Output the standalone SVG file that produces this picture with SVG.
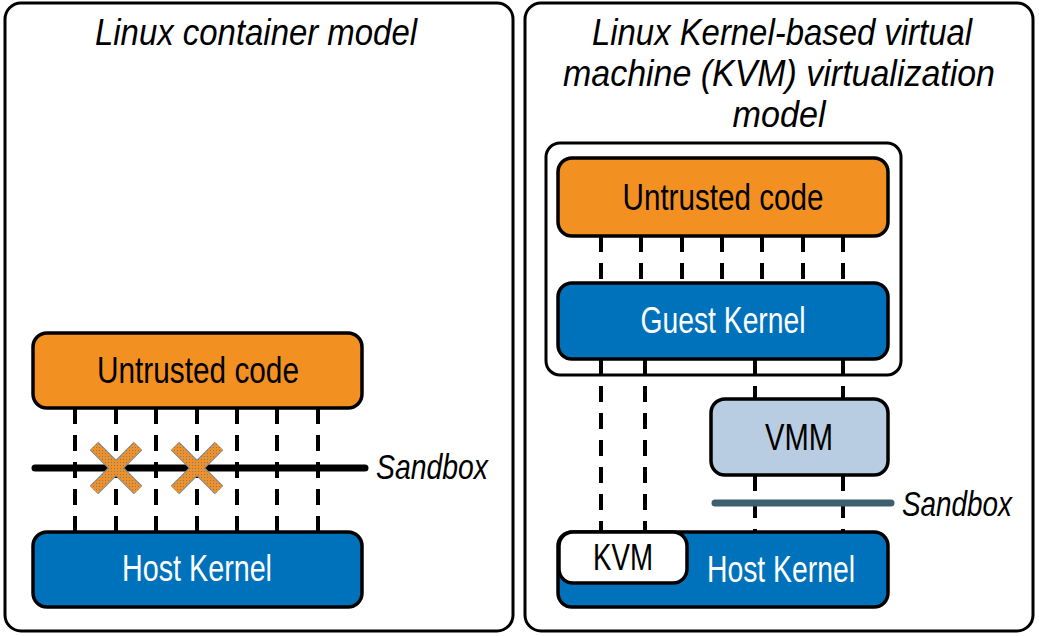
<svg xmlns="http://www.w3.org/2000/svg" width="1039" height="636" viewBox="0 0 1039 636">
<style>
.panel{fill:#fff;stroke:#000;stroke-width:3}
.box{stroke:#000;stroke-width:3.5}
.orange{fill:#F39022}
.blue{fill:#0072BC}
.vmm{fill:#B8CDE1}
.white{fill:#fff}
.dash{stroke:#000;stroke-width:4;stroke-dasharray:16 11;fill:none}
.title{font-family:"Liberation Sans Narrow","Liberation Sans",sans-serif;font-style:italic;font-size:36px;fill:#000;text-anchor:middle}
.lbl{font-family:"Liberation Sans Narrow","Liberation Sans",sans-serif;font-size:37px;text-anchor:middle}
.dark{fill:#000}
.light{fill:#fff}
.sb{font-family:"Liberation Sans Narrow","Liberation Sans",sans-serif;font-style:italic;font-size:35px;fill:#000}
</style>
<defs>
<pattern id="dither" width="3" height="3" patternUnits="userSpaceOnUse">
<rect width="3" height="3" fill="#F09028"/>
<rect width="1" height="1" fill="#6E7E88"/>
</pattern>
</defs>
<g id="panel-left">
<rect class="panel" x="5" y="3" width="508" height="628" rx="16"/>
<text class="title" x="256" y="45" textLength="322" lengthAdjust="spacingAndGlyphs">Linux container model</text>
</g>
<g id="panel-right">
<rect class="panel" x="525" y="3" width="508" height="628" rx="16"/>
<text class="title" x="782" y="45" textLength="380" lengthAdjust="spacingAndGlyphs">Linux Kernel-based virtual</text>
<text class="title" x="779" y="86" textLength="432" lengthAdjust="spacingAndGlyphs">machine (KVM) virtualization</text>
<text class="title" x="779" y="127" textLength="93" lengthAdjust="spacingAndGlyphs">model</text>
</g>
<g id="connectors">
<line class="dash" x1="75" y1="408" x2="75" y2="532"/>
<line class="dash" x1="116" y1="408" x2="116" y2="532"/>
<line class="dash" x1="156" y1="408" x2="156" y2="532"/>
<line class="dash" x1="197" y1="408" x2="197" y2="532"/>
<line class="dash" x1="237" y1="408" x2="237" y2="532"/>
<line class="dash" x1="277" y1="408" x2="277" y2="532"/>
<line class="dash" x1="318" y1="408" x2="318" y2="532"/>
<line class="dash" x1="601" y1="236" x2="601" y2="283"/>
<line class="dash" x1="641" y1="236" x2="641" y2="283"/>
<line class="dash" x1="682" y1="236" x2="682" y2="283"/>
<line class="dash" x1="722" y1="236" x2="722" y2="283"/>
<line class="dash" x1="762" y1="236" x2="762" y2="283"/>
<line class="dash" x1="803" y1="236" x2="803" y2="283"/>
<line class="dash" x1="843" y1="236" x2="843" y2="283"/>
<line class="dash" x1="601" y1="359" x2="601" y2="532"/>
<line class="dash" x1="645" y1="359" x2="645" y2="532"/>
<line class="dash" x1="755" y1="359" x2="755" y2="399"/>
<line class="dash" x1="843" y1="359" x2="843" y2="399"/>
<line class="dash" x1="755" y1="475" x2="755" y2="532"/>
<line class="dash" x1="843" y1="475" x2="843" y2="532"/>
</g>
<g id="sandbox-left">
<line x1="35" y1="468" x2="365" y2="468" stroke="#000" stroke-width="7" stroke-linecap="round"/>
<text class="sb" x="376" y="479" textLength="112" lengthAdjust="spacingAndGlyphs">Sandbox</text>
</g>
<g id="blocked-marks">
<g stroke="#7B8A93" stroke-width="12" stroke-linecap="butt">
<line x1="94" y1="446" x2="138" y2="490"/><line x1="138" y1="446" x2="94" y2="490"/>
<line x1="175" y1="446" x2="219" y2="490"/><line x1="219" y1="446" x2="175" y2="490"/>
</g>
<g stroke="url(#dither)" stroke-width="10" stroke-linecap="butt">
<line x1="94" y1="446" x2="138" y2="490"/><line x1="138" y1="446" x2="94" y2="490"/>
<line x1="175" y1="446" x2="219" y2="490"/><line x1="219" y1="446" x2="175" y2="490"/>
</g>
</g>
<g id="untrusted-left">
<rect class="box orange" x="33" y="333" width="329" height="75" rx="14"/>
<text class="lbl dark" x="198" y="383" textLength="202" lengthAdjust="spacingAndGlyphs">Untrusted code</text>
</g>
<g id="host-kernel-left">
<rect class="box blue" x="33" y="532" width="329" height="75" rx="14"/>
<text class="lbl light" x="197" y="581" textLength="150" lengthAdjust="spacingAndGlyphs">Host Kernel</text>
</g>
<g id="vm-container">
<rect x="546" y="143" width="355" height="232" rx="14" fill="none" stroke="#000" stroke-width="3"/>
</g>
<g id="untrusted-right">
<rect class="box orange" x="558" y="158" width="330" height="78" rx="14"/>
<text class="lbl dark" x="723" y="210" textLength="201" lengthAdjust="spacingAndGlyphs">Untrusted code</text>
</g>
<g id="guest-kernel">
<rect class="box blue" x="558" y="283" width="330" height="76" rx="14"/>
<text class="lbl light" x="723" y="333" textLength="165" lengthAdjust="spacingAndGlyphs">Guest Kernel</text>
</g>
<g id="vmm">
<rect class="box vmm" x="711" y="399" width="177" height="76" rx="14"/>
<text class="lbl dark" x="799" y="450" textLength="68" lengthAdjust="spacingAndGlyphs">VMM</text>
</g>
<g id="sandbox-right">
<line x1="715" y1="503" x2="891" y2="503" stroke="#3E5F6E" stroke-width="7" stroke-linecap="round"/>
<text class="sb" x="902" y="516" textLength="110" lengthAdjust="spacingAndGlyphs">Sandbox</text>
</g>
<g id="host-kernel-right">
<rect class="box blue" x="558" y="532" width="330" height="75" rx="14"/>
<text class="lbl light" x="781" y="582" textLength="148" lengthAdjust="spacingAndGlyphs">Host Kernel</text>
</g>
<g id="kvm">
<rect class="box white" x="559" y="532" width="128" height="51" rx="14"/>
<text class="lbl dark" x="623" y="570" textLength="60" lengthAdjust="spacingAndGlyphs">KVM</text>
</g>
</svg>
